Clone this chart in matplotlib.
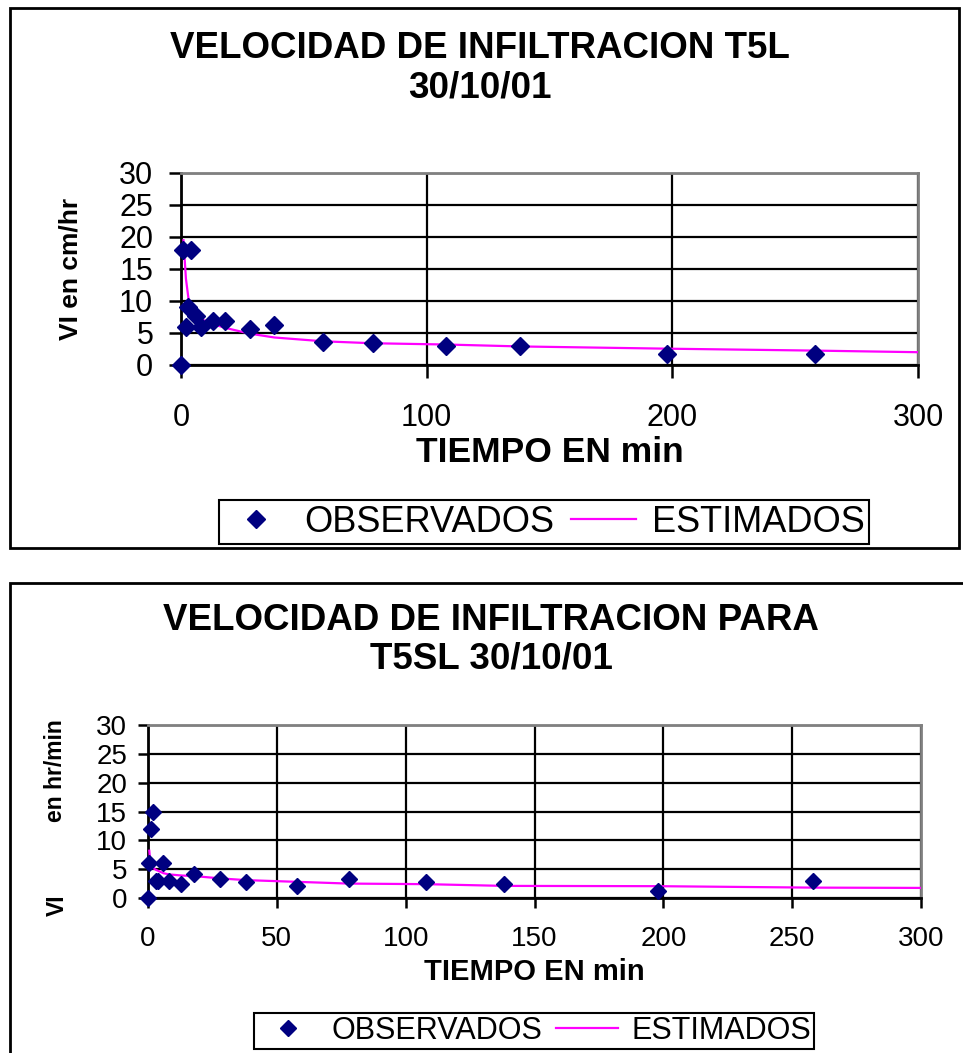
import matplotlib
matplotlib.use('Agg')
import matplotlib.pyplot as plt
from matplotlib.patches import Rectangle

plt.rcParams['font.family'] = ['Liberation Sans', 'DejaVu Sans']

# --- DATOS ---

# T5L 30/10/01 (grafico superior)
t_obs_t5l = [0, 1, 2, 3, 4, 6, 8, 13, 18, 28, 38, 58, 78, 108, 138, 198, 258]
vi_obs_t5l = [0, 18, 6, 9, 18, 7.7, 6, 6.8, 6.8, 5.6, 6.3, 3.6, 3.4, 2.9, 2.9, 1.7, 1.7]
t_est_t5l = [1, 2, 3, 4, 6, 8, 13, 18, 28, 38, 58, 78, 108, 138, 198, 258, 300]
vi_est_t5l = [19.5, 13.5, 10.5, 9.2, 7.8, 7.2, 6.4, 5.8, 4.9, 4.3, 3.7, 3.4, 3.2, 2.9, 2.55, 2.25, 2.0]

# T5SL 30/10/01 (grafico inferior)
t_obs_t5sl = [0, 0.5, 1, 2, 3, 4, 6, 8, 13, 18, 28, 38, 58, 78, 108, 138, 198, 258]
vi_obs_t5sl = [0, 6, 12, 15, 2.9, 2.9, 6, 2.9, 2.4, 4.2, 3.3, 2.7, 2.1, 3.3, 2.7, 2.4, 1.15, 3.0]
t_est_t5sl = [0.5, 1, 2, 3, 4, 6, 8, 13, 18, 28, 38, 58, 78, 108, 138, 198, 258, 300]
vi_est_t5sl = [8.2, 5.8, 5.2, 4.9, 4.7, 4.3, 4.1, 3.9, 3.8, 3.4, 3.1, 2.8, 2.5, 2.4, 2.1, 2.05, 1.8, 1.75]

W, H = 963, 1053
fig = plt.figure(figsize=(W / 100, H / 100), dpi=100)


def px_axes(left, top, right, bottom):
    return fig.add_axes([left / W, 1 - bottom / H, (right - left) / W, (bottom - top) / H])


def style_axes(ax, xstep, fs, tlen, padx, pady):
    ax.set_xlim(0, 300)
    ax.set_ylim(0, 30)
    ax.set_xticks(range(0, 301, xstep))
    ax.set_yticks(range(0, 31, 5))
    ax.grid(True, color='black', linewidth=1.6)
    ax.set_axisbelow(True)
    for s in ['top', 'right']:
        ax.spines[s].set_color('#808080')
        ax.spines[s].set_linewidth(2)
    for s in ['left', 'bottom']:
        ax.spines[s].set_color('black')
        ax.spines[s].set_linewidth(2)
    ax.tick_params(direction='out', length=tlen, width=1.8, labelsize=fs)
    ax.tick_params(axis='x', pad=padx)
    ax.tick_params(axis='y', pad=pady)


def draw_series(ax, t_obs, vi_obs, t_est, vi_est, ms):
    obs, = ax.plot(t_obs, vi_obs, linestyle='none', marker='D', markersize=ms,
                   color='#000080', label='OBSERVADOS', zorder=4, clip_on=False)
    est, = ax.plot(t_est, vi_est, color='#FF00FF', linewidth=1.6,
                   label='ESTIMADOS', zorder=3)
    return obs, est


# marcos de cada grafico
fig.patches.append(Rectangle((10 / W, 1 - 548 / H), 949 / W, 540 / H, transform=fig.transFigure,
                             fill=False, edgecolor='black', linewidth=2))
fig.patches.append(Rectangle((10 / W, -0.01), 1.0, 1 - 583 / H + 0.01, transform=fig.transFigure,
                             fill=False, edgecolor='black', linewidth=2))

# --- GRAFICO 1 ---
ax1 = px_axes(181, 173, 918, 365)
style_axes(ax1, 100, 22, 9, 18, 11)
h1 = draw_series(ax1, t_obs_t5l, vi_obs_t5l, t_est_t5l, vi_est_t5l, 9.5)
fig.text(0.498, 1 - 68 / H, 'VELOCIDAD DE INFILTRACION T5L\n30/10/01', ha='center', va='center',
         fontsize=26.5, fontweight='bold', linespacing=1.15)
ax1.set_xlabel('TIEMPO EN min', fontsize=25.5, fontweight='bold')
ax1.xaxis.set_label_coords(0.5, -(452 - 365) / 192)
ax1.xaxis.label.set_va('center')
ax1.set_ylabel('VI en cm/hr', fontsize=19, fontweight='bold')
ax1.yaxis.set_label_coords((70 - 181) / 737, 0.5)
ax1.yaxis.label.set_va('center')
leg1 = ax1.legend(handles=h1, loc='center', bbox_to_anchor=(544 / W, 1 - 522 / H),
                  bbox_transform=fig.transFigure, ncol=2, fontsize=26, frameon=True,
                  fancybox=False, edgecolor='black', framealpha=1, handlelength=1.8,
                  handletextpad=0.45, columnspacing=0.45, borderpad=0.12)
leg1.get_frame().set_linewidth(1.5)

# --- GRAFICO 2 ---
ax2 = px_axes(148, 725, 921, 898)
style_axes(ax2, 50, 20, 7, 13, 8)
h2 = draw_series(ax2, t_obs_t5sl, vi_obs_t5sl, t_est_t5sl, vi_est_t5sl, 8.5)
fig.text(0.51, 1 - 640 / H, 'VELOCIDAD DE INFILTRACION PARA\nT5SL 30/10/01', ha='center', va='center',
         fontsize=26.5, fontweight='bold', linespacing=1.12)
ax2.set_xlabel('TIEMPO EN min', fontsize=21, fontweight='bold')
ax2.xaxis.set_label_coords(0.5, -(972 - 898) / 173)
ax2.xaxis.label.set_va('center')
ax2.text((55 - 148) / 773, (898 - 771) / 173, 'en hr/min', transform=ax2.transAxes, rotation=90,
         ha='center', va='center', fontsize=16.5, fontweight='bold')
ax2.text((57 - 148) / 773, (898 - 905) / 173, 'VI', transform=ax2.transAxes, rotation=90,
         ha='center', va='center', fontsize=16.5, fontweight='bold')
leg2 = ax2.legend(handles=h2, loc='center', bbox_to_anchor=(534 / W, 1 - 1031 / H),
                  bbox_transform=fig.transFigure, ncol=2, fontsize=22, frameon=True,
                  fancybox=False, edgecolor='black', framealpha=1, handlelength=2.0,
                  handletextpad=0.45, columnspacing=0.45, borderpad=0.1)
leg2.get_frame().set_linewidth(1.5)

fig.savefig('out.png', dpi=100)
